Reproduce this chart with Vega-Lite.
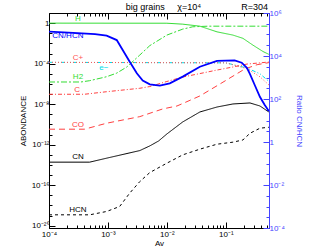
{
  "$schema": "https://vega.github.io/schema/vega-lite/v6.json",
  "width": 220,
  "height": 215,
  "autosize": "none",
  "padding": {"left": 49, "top": 13, "right": 45, "bottom": 23},
  "config": {
    "font": "Liberation Sans",
    "view": {"stroke": "#000000", "strokeWidth": 1},
    "axis": {"grid": false, "labelFontSize": 8, "titleFontSize": 8, "titleFontWeight": "normal", "domainColor": "#000000", "tickColor": "#000000", "labelColor": "#000000", "titleColor": "#000000"}
  },
  "title": {"text": "big grains\u00a0\u00a0\u00a0\u00a0\u00a0χ=10⁴\u00a0\u00a0\u00a0\u00a0\u00a0\u00a0\u00a0\u00a0\u00a0\u00a0\u00a0\u00a0\u00a0\u00a0\u00a0\u00a0R=304", "anchor": "end", "frame": "group", "fontSize": 9, "fontWeight": "normal", "offset": -3, "font": "Liberation Sans", "dx": -1},
  "datasets": {
    "ab": [
      {"s": "H", "av": 0.0001, "a": 1},
      {"s": "H", "av": 0.01, "a": 0.98},
      {"s": "H", "av": 0.0186, "a": 0.79},
      {"s": "H", "av": 0.0363, "a": 0.5},
      {"s": "H", "av": 0.0708, "a": 0.138},
      {"s": "H", "av": 0.132, "a": 0.066},
      {"s": "H", "av": 0.195, "a": 0.0316},
      {"s": "H", "av": 0.288, "a": 0.00676},
      {"s": "H", "av": 0.427, "a": 0.00158},
      {"s": "H", "av": 0.537, "a": 0.00083},
      {"s": "H2", "av": 0.0001, "a": 1.55e-6},
      {"s": "H2", "av": 0.000347, "a": 1.55e-6},
      {"s": "H2", "av": 0.00049, "a": 2.09e-6},
      {"s": "H2", "av": 0.00095, "a": 5.13e-6},
      {"s": "H2", "av": 0.00141, "a": 1.17e-5},
      {"s": "H2", "av": 0.00209, "a": 4.68e-5},
      {"s": "H2", "av": 0.00347, "a": 0.000708},
      {"s": "H2", "av": 0.00513, "a": 0.00603},
      {"s": "H2", "av": 0.01, "a": 0.066},
      {"s": "H2", "av": 0.0186, "a": 0.257},
      {"s": "H2", "av": 0.0275, "a": 0.437},
      {"s": "H2", "av": 0.05, "a": 0.5},
      {"s": "H2", "av": 0.537, "a": 0.5},
      {"s": "e−", "av": 0.0001, "a": 0.000135},
      {"s": "e−", "av": 0.1, "a": 0.00012},
      {"s": "e−", "av": 0.229, "a": 3.7e-5},
      {"s": "e−", "av": 0.38, "a": 1e-5},
      {"s": "e−", "av": 0.537, "a": 1.78e-6},
      {"s": "C+", "av": 0.0001, "a": 0.000135},
      {"s": "C+", "av": 0.1, "a": 0.00012},
      {"s": "C+", "av": 0.229, "a": 3.16e-5},
      {"s": "C+", "av": 0.38, "a": 5e-6},
      {"s": "C+", "av": 0.537, "a": 7.9e-7},
      {"s": "C", "av": 0.0001, "a": 9.55e-8},
      {"s": "C", "av": 0.0004, "a": 9.55e-8},
      {"s": "C", "av": 0.00095, "a": 1.7e-7},
      {"s": "C", "av": 0.00347, "a": 3.72e-7},
      {"s": "C", "av": 0.00513, "a": 5.5e-7},
      {"s": "C", "av": 0.01, "a": 1.74e-6},
      {"s": "C", "av": 0.0186, "a": 4.79e-6},
      {"s": "C", "av": 0.0363, "a": 1.05e-5},
      {"s": "C", "av": 0.0708, "a": 2.34e-5},
      {"s": "C", "av": 0.132, "a": 4.68e-5},
      {"s": "C", "av": 0.229, "a": 9.12e-5},
      {"s": "C", "av": 0.537, "a": 0.000145},
      {"s": "CO", "av": 0.0001, "a": 3.39e-11},
      {"s": "CO", "av": 0.0004, "a": 3.39e-11},
      {"s": "CO", "av": 0.00095, "a": 1.32e-10},
      {"s": "CO", "av": 0.00347, "a": 5.9e-10},
      {"s": "CO", "av": 0.0085, "a": 3.4e-9},
      {"s": "CO", "av": 0.0148, "a": 6.6e-9},
      {"s": "CO", "av": 0.0186, "a": 1.17e-8},
      {"s": "CO", "av": 0.0363, "a": 6.5e-8},
      {"s": "CO", "av": 0.0794, "a": 9.8e-7},
      {"s": "CO", "av": 0.209, "a": 2.95e-5},
      {"s": "CO", "av": 0.339, "a": 7.9e-5},
      {"s": "CO", "av": 0.537, "a": 0.000126},
      {"s": "CN", "av": 0.0001, "a": 1.9e-14},
      {"s": "CN", "av": 0.00049, "a": 1.9e-14},
      {"s": "CN", "av": 0.00095, "a": 4.68e-14},
      {"s": "CN", "av": 0.00347, "a": 2.63e-13},
      {"s": "CN", "av": 0.00513, "a": 7.59e-13},
      {"s": "CN", "av": 0.00724, "a": 2.34e-12},
      {"s": "CN", "av": 0.01, "a": 1.15e-11},
      {"s": "CN", "av": 0.0186, "a": 1.78e-10},
      {"s": "CN", "av": 0.0363, "a": 1.7e-9},
      {"s": "CN", "av": 0.0708, "a": 5.25e-9},
      {"s": "CN", "av": 0.132, "a": 1.05e-8},
      {"s": "CN", "av": 0.257, "a": 1.32e-8},
      {"s": "CN", "av": 0.38, "a": 6.6e-9},
      {"s": "CN", "av": 0.537, "a": 1.7e-9},
      {"s": "HCN", "av": 0.0001, "a": 1.2e-19},
      {"s": "HCN", "av": 0.00049, "a": 1.2e-19},
      {"s": "HCN", "av": 0.00095, "a": 2.57e-19},
      {"s": "HCN", "av": 0.00158, "a": 7.94e-19},
      {"s": "HCN", "av": 0.00234, "a": 1.66e-17},
      {"s": "HCN", "av": 0.00347, "a": 2.29e-16},
      {"s": "HCN", "av": 0.00513, "a": 1.78e-15},
      {"s": "HCN", "av": 0.01, "a": 1.51e-14},
      {"s": "HCN", "av": 0.0186, "a": 1e-13},
      {"s": "HCN", "av": 0.0363, "a": 3.63e-13},
      {"s": "HCN", "av": 0.0708, "a": 1.12e-12},
      {"s": "HCN", "av": 0.132, "a": 1.78e-12},
      {"s": "HCN", "av": 0.195, "a": 2.95e-12},
      {"s": "HCN", "av": 0.257, "a": 1.35e-11},
      {"s": "HCN", "av": 0.38, "a": 4.27e-11},
      {"s": "HCN", "av": 0.537, "a": 5.25e-11}
    ],
    "labels": [
      {"s": "H", "av": 0.00031, "a": 2.5},
      {"s": "CN/HCN", "av": 0.000209, "a": 0.052},
      {"s": "C+", "av": 0.00031, "a": 0.0004},
      {"s": "e−", "av": 0.00085, "a": 3.7e-5},
      {"s": "H2", "av": 0.00031, "a": 4.8e-6},
      {"s": "C", "av": 0.0003, "a": 2.8e-7},
      {"s": "CO", "av": 0.00031, "a": 8.9e-11},
      {"s": "CN", "av": 0.00031, "a": 5.6e-14},
      {"s": "HCN", "av": 0.00031, "a": 3.8e-19}
    ],
    "ratio": [
      {"s": "CN/HCN", "av": 0.0001, "r": 135000},
      {"s": "CN/HCN", "av": 0.000257, "r": 120000},
      {"s": "CN/HCN", "av": 0.000603, "r": 105000},
      {"s": "CN/HCN", "av": 0.00095, "r": 89000},
      {"s": "CN/HCN", "av": 0.00141, "r": 55000},
      {"s": "CN/HCN", "av": 0.00178, "r": 19000},
      {"s": "CN/HCN", "av": 0.00234, "r": 5370},
      {"s": "CN/HCN", "av": 0.00309, "r": 1580},
      {"s": "CN/HCN", "av": 0.00389, "r": 724},
      {"s": "CN/HCN", "av": 0.00513, "r": 479},
      {"s": "CN/HCN", "av": 0.00759, "r": 417},
      {"s": "CN/HCN", "av": 0.0112, "r": 537},
      {"s": "CN/HCN", "av": 0.0186, "r": 1100},
      {"s": "CN/HCN", "av": 0.0363, "r": 3160},
      {"s": "CN/HCN", "av": 0.0708, "r": 5890},
      {"s": "CN/HCN", "av": 0.141, "r": 6310},
      {"s": "CN/HCN", "av": 0.186, "r": 4900},
      {"s": "CN/HCN", "av": 0.229, "r": 2750},
      {"s": "CN/HCN", "av": 0.257, "r": 1450},
      {"s": "CN/HCN", "av": 0.309, "r": 447},
      {"s": "CN/HCN", "av": 0.38, "r": 123},
      {"s": "CN/HCN", "av": 0.457, "r": 52.5},
      {"s": "CN/HCN", "av": 0.537, "r": 27.5}
    ]
  },
  "resolve": {"scale": {"y": "independent"}, "axis": {"x": "independent", "y": "independent"}},
  "layer": [
    {
      "layer": [
        {
          "data": {"name": "ab"},
          "mark": {"type": "line", "strokeWidth": 1, "clip": true},
          "encoding": {
            "x": {"field": "av", "type": "quantitative",
              "scale": {"type": "log", "domain": [0.0001, 0.54], "nice": false},
              "axis": {"title": "Av", "titlePadding": 1,
                "values": [0.0001,0.0002,0.0003,0.0004,0.0005,0.0006,0.0007,0.0008,0.0009,0.001,0.002,0.003,0.004,0.005,0.006,0.007,0.008,0.009,0.01,0.02,0.03,0.04,0.05,0.06,0.07,0.08,0.09,0.1,0.2,0.3,0.4,0.5],
                "labelExpr": "abs(log(datum.value)/LN10 - round(log(datum.value)/LN10)) > 0.01 ? '' : round(log(datum.value)/LN10) == -4 ? '10⁻⁴' : round(log(datum.value)/LN10) == -3 ? '10⁻³' : round(log(datum.value)/LN10) == -2 ? '10⁻²' : '10⁻¹'",
                "tickSize": {"condition": {"test": "abs(log(datum.value)/LN10 - round(log(datum.value)/LN10)) < 0.01", "value": -6}, "value": -3},
                "labelPadding": 8, "labelFlush": false}},
            "y": {"field": "a", "type": "quantitative",
              "scale": {"type": "log", "domain": [6e-21, 10], "nice": false},
              "axis": {"title": "ABONDANCE", "titlePadding": 4,
                "values": [1e-20,1e-19,1e-18,1e-17,1e-16,1e-15,1e-14,1e-13,1e-12,1e-11,1e-10,1e-9,1e-8,1e-7,1e-6,1e-5,1e-4,1e-3,1e-2,1e-1,1],
                "labelExpr": "round(log(datum.value)/LN10) == 0 ? '1' : round(log(datum.value)/LN10) == -4 ? '10⁻⁴' : round(log(datum.value)/LN10) == -8 ? '10⁻⁸' : round(log(datum.value)/LN10) == -12 ? '10⁻¹²' : round(log(datum.value)/LN10) == -16 ? '10⁻¹⁶' : round(log(datum.value)/LN10) == -20 ? '10⁻²⁰' : ''",
                "tickSize": {"condition": {"test": "round(log(datum.value)/LN10) % 4 == 0", "value": -6}, "value": -3},
                "labelPadding": 6, "labelFlush": false}},
            "color": {"field": "s", "type": "nominal", "legend": null,
              "scale": {"domain": ["H","H2","e−","C+","C","CO","CN","HCN","CN/HCN"],
                        "range": ["#33dd33","#33dd33","#00dde8","#ff5555","#ff4040","#ff4040","#000000","#000000","#0000ff"]}},
            "strokeDash": {"field": "s", "type": "nominal", "legend": null,
              "scale": {"domain": ["H","H2","e−","C+","C","CO","CN","HCN","CN/HCN"],
                        "range": [[1,0],[6,2,2,2],[4,2,1,2,1,2],[1,2],[4,2,1,2],[6,4],[1,0],[3,3],[1,0]]}}
          }
        },
        {
          "data": {"name": "labels"},
          "mark": {"type": "text", "fontSize": 8, "font": "Liberation Sans"},
          "encoding": {
            "x": {"field": "av", "type": "quantitative"},
            "y": {"field": "a", "type": "quantitative"},
            "text": {"field": "s"},
            "color": {"field": "s", "type": "nominal", "legend": null}
          }
        }
      ]
    },
    {
      "data": {"name": "ratio"},
      "mark": {"type": "line", "strokeWidth": 1.8, "clip": true},
      "encoding": {
        "x": {"field": "av", "type": "quantitative",
          "axis": {"orient": "top", "title": null, "labels": false, "domain": false,
            "values": [0.0001,0.0002,0.0003,0.0004,0.0005,0.0006,0.0007,0.0008,0.0009,0.001,0.002,0.003,0.004,0.005,0.006,0.007,0.008,0.009,0.01,0.02,0.03,0.04,0.05,0.06,0.07,0.08,0.09,0.1,0.2,0.3,0.4,0.5],
            "tickSize": {"condition": {"test": "abs(log(datum.value)/LN10 - round(log(datum.value)/LN10)) < 0.01", "value": -6}, "value": -3}}},
        "y": {"field": "r", "type": "quantitative",
          "scale": {"type": "log", "domain": [0.0001, 1000000], "nice": false},
          "axis": {"orient": "right", "title": "Ratio CN/HCN", "titleAngle": 90, "titlePadding": 10,
            "domainColor": "#4444ff", "tickColor": "#4444ff", "labelColor": "#4444ff", "titleColor": "#4444ff",
            "values": [1e-4,3.16e-4,1e-3,3.16e-3,1e-2,3.16e-2,1e-1,0.316,1,3.16,10,31.6,100,316,1000,3160,10000,31600,100000,316000,1000000],
            "labelExpr": "abs(log(datum.value)/LN10 - round(log(datum.value)/LN10)) > 0.01 ? '' : round(log(datum.value)/LN10) == 0 ? '1' : round(log(datum.value)/LN10) == 6 ? '10⁶' : round(log(datum.value)/LN10) == 4 ? '10⁴' : round(log(datum.value)/LN10) == 2 ? '10²' : round(log(datum.value)/LN10) == -2 ? '10⁻²' : round(log(datum.value)/LN10) == -4 ? '10⁻⁴' : ''",
            "tickSize": {"condition": {"test": "abs(log(datum.value)/LN10 - round(log(datum.value)/LN10)) < 0.01 && round(log(datum.value)/LN10) % 2 == 0", "value": -6}, "value": -3},
            "labelPadding": 6, "labelFlush": false}},
        "color": {"field": "s", "type": "nominal", "legend": null}
      }
    }
  ]
}
